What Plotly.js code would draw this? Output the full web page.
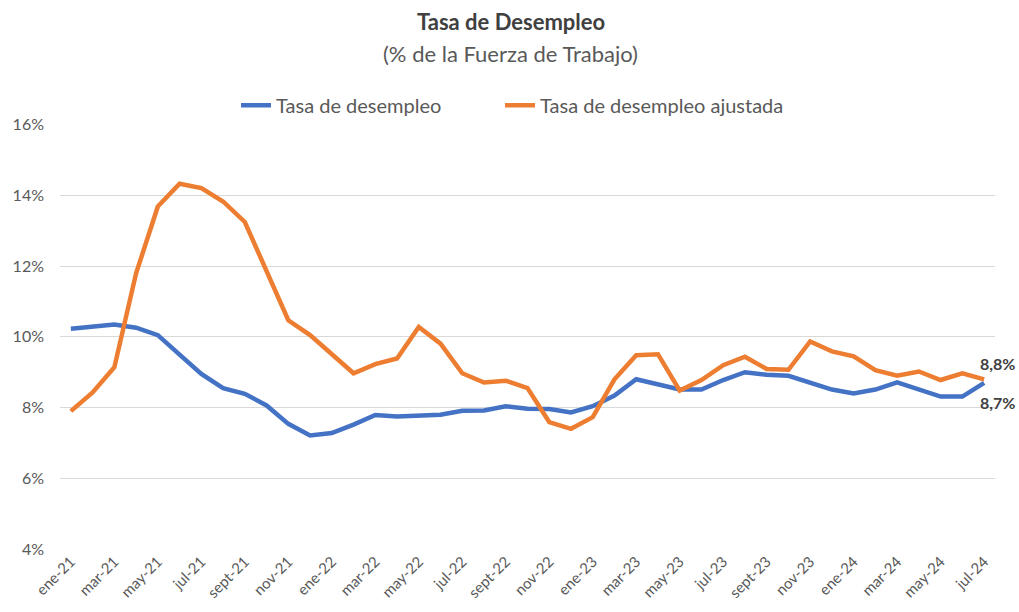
<!DOCTYPE html>
<html><head><meta charset="utf-8">
<script src="https://cdn.plot.ly/plotly-3.0.1.min.js"></script>
<style>html,body{margin:0;padding:0;background:#fff}</style>
</head><body>
<div id="chart" style="width:1019px;height:612px"></div>
<script>
const months = ["ene","feb","mar","abr","may","jun","jul","ago","sept","oct","nov","dic"];
const years = ["21","22","23","24"];
const categories = [];
for (const y of years) for (const m of months) { if (categories.length < 43) categories.push(m + "-" + y); }
const tasa = [10.23,10.30,10.35,10.26,10.05,9.50,8.95,8.55,8.39,8.06,7.54,7.21,
  7.28,7.52,7.79,7.75,7.79,7.80,7.91,7.92,8.04,7.97,7.96,7.86,
  8.04,8.34,8.80,8.67,8.51,8.51,8.78,9.00,8.93,8.90,8.71,8.51,
  8.40,8.51,8.71,8.51,8.31,8.31,8.70];
const tasaAjustada = [7.90,8.43,9.14,11.80,13.69,14.33,14.21,13.83,13.25,11.86,10.47,10.05,
  9.53,8.97,9.23,9.39,10.28,9.81,8.97,8.71,8.76,8.55,7.59,7.40,
  7.73,8.80,9.48,9.51,8.48,8.78,9.20,9.44,9.09,9.07,9.87,9.59,
  9.45,9.06,8.90,9.02,8.78,8.97,8.80];
const tickCats = categories.filter((c, i) => i % 2 === 0);
const lastLabels = ["8,8%", "8,7%"];

const font = "Lato, 'Open Sans', sans-serif";
const traces = [
  {x: categories, y: tasa, type: "scatter", mode: "lines", name: "Tasa de desempleo",
   line: {color: "#4472C4", width: 4.5}, legend: "legend"},
  {x: categories, y: tasaAjustada, type: "scatter", mode: "lines", name: "Tasa de desempleo ajustada",
   line: {color: "#ED7D31", width: 4.5}, legend: "legend2"}
];
const n = categories.length - 1;
const legendBase = {orientation: "h", xref: "container", xanchor: "left",
    y: 0.828, yref: "container", yanchor: "middle",
    font: {size: 20, color: "#595959"}, bgcolor: "rgba(0,0,0,0)"};
const layout = {
  width: 1019, height: 612,
  margin: {l: 60, r: 24, t: 123, b: 63},
  paper_bgcolor: "#fff", plot_bgcolor: "#fff",
  font: {family: font, color: "#595959"},
  showlegend: true,
  legend: Object.assign({}, legendBase, {x: 236 / 1019}),
  legend2: Object.assign({}, legendBase, {x: 500 / 1019}),
  xaxis: {type: "category", range: [-0.5, n + 0.5], tickvals: tickCats, ticktext: tickCats,
    tickangle: -45, tickfont: {size: 15, color: "#595959"}, showgrid: false, zeroline: false,
    showline: false, ticks: ""},
  yaxis: {range: [4, 16], dtick: 2, ticksuffix: "%", tickfont: {size: 16, color: "#595959"},
    ticklabelstandoff: 15,
    showgrid: true, gridcolor: "#D9D9D9", gridwidth: 1, zeroline: false, showline: false, ticks: ""},
  annotations: [
    {text: "<b>Tasa de Desempleo</b>", xref: "paper", yref: "paper", x: 0.5, y: 1, yanchor: "middle",
     xshift: -17, yshift: 103, showarrow: false, font: {size: 22, color: "#404040", family: font}},
    {text: "(% de la Fuerza de Trabajo)", xref: "paper", yref: "paper", x: 0.5, y: 1, yanchor: "middle",
     xshift: -17, yshift: 71, showarrow: false, font: {size: 22, color: "#595959", family: font}},
    {text: "<b>" + lastLabels[0] + "</b>", x: 1, y: tasaAjustada[n], xref: "paper", yref: "y",
     showarrow: false, xanchor: "right", xshift: 22, yshift: 16, font: {size: 16, color: "#404040", family: font}},
    {text: "<b>" + lastLabels[1] + "</b>", x: 1, y: tasa[n], xref: "paper", yref: "y",
     showarrow: false, xanchor: "right", xshift: 22, yshift: -20, font: {size: 16, color: "#404040", family: font}}
  ]
};
Plotly.newPlot("chart", traces, layout, {displayModeBar: false, responsive: false});
</script>
</body></html>
